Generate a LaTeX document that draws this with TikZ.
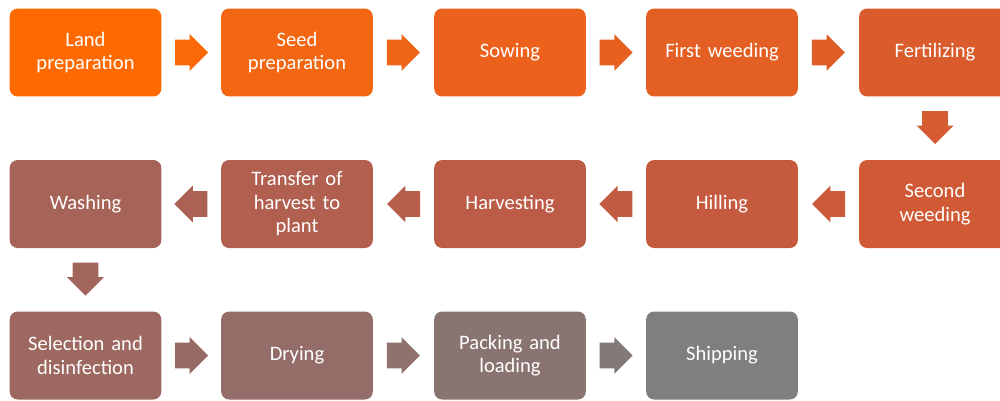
\documentclass[tikz,border=0pt]{standalone}
\usepackage{fontspec}
\setmainfont{Carlito}
\usetikzlibrary{shapes.arrows, calc}

% colours running from orange to grey along the process
\definecolor{step1}{RGB}{255,106,0}
\definecolor{step2}{RGB}{243,102,18}
\definecolor{step3}{RGB}{236,98,28}
\definecolor{step4}{RGB}{228,95,35}
\definecolor{step5}{RGB}{218,92,44}
\definecolor{step6}{RGB}{208,90,53}
\definecolor{step7}{RGB}{198,90,62}
\definecolor{step8}{RGB}{188,92,71}
\definecolor{step9}{RGB}{177,95,79}
\definecolor{step10}{RGB}{166,99,88}
\definecolor{step11}{RGB}{157,104,96}
\definecolor{step12}{RGB}{148,109,105}
\definecolor{step13}{RGB}{138,116,114}
\definecolor{step14}{RGB}{127,127,127}

\tikzset{
  stagebox/.style={rounded corners=0.16cm, minimum width=2.98cm, minimum height=1.76cm,
    text width=2.8cm, align=center, text=white, font=\fontsize{11.7}{13.4}\selectfont},
  flowarrow/.style={single arrow, anchor=tail, inner xsep=0pt, inner ysep=0.25cm,
    single arrow head extend=0.11cm, minimum height=0.66cm, text height=0pt, text depth=0pt},
}

\begin{document}
\begin{tikzpicture}[x=0.02cm, y=-0.02cm]
\useasboundingbox (0,0) rectangle (1000,400);
% --- Row 1 (left to right) ---
\node[stagebox, fill=step1] (land) at (85.5,52.5) {Land\\preparation};
\node[stagebox, fill=step2] (seed) at (297,52.5) {Seed\\preparation};
\node[stagebox, fill=step3] (sowing) at (510,52.5) {Sowing};
\node[stagebox, fill=step4] (weed1) at (722,52.5) {First weeding};
\node[stagebox, fill=step5] (fert) at (935,52.5) {Fertilizing};
% --- Row 2 (right to left) ---
\node[stagebox, fill=step6] (weed2) at (935,204) {Second\\weeding};
\node[stagebox, fill=step7] (hilling) at (722,204) {Hilling};
\node[stagebox, fill=step8] (harvest) at (510,204) {Harvesting};
\node[stagebox, fill=step9] (transfer) at (297,204) {Transfer of\\harvest to\\plant};
\node[stagebox, fill=step10] (washing) at (85.5,204) {Washing};
% --- Row 3 (left to right) ---
\node[stagebox, fill=step11] (select) at (85.5,355.5) {Selection and\\disinfection};
\node[stagebox, fill=step12] (drying) at (297,355.5) {Drying};
\node[stagebox, fill=step13] (packing) at (510,355.5) {Packing and\\loading};
\node[stagebox, fill=step14] (shipping) at (722,355.5) {Shipping};

% block arrows between the stages
\node[flowarrow, fill=step1!60!step2] (a1) at ($(land.east)!0.22!(seed.west)$) {};
\node[flowarrow, fill=step2!50!step3] (a2) at ($(seed.east)!0.22!(sowing.west)$) {};
\node[flowarrow, fill=step3!50!step4] (a3) at ($(sowing.east)!0.22!(weed1.west)$) {};
\node[flowarrow, fill=step4!50!step5] (a4) at ($(weed1.east)!0.22!(fert.west)$) {};
\node[flowarrow, fill=step5!50!step6, rotate=-90] (a5) at ($(fert.south)!0.22!(weed2.north)$) {};
\node[flowarrow, fill=step6!50!step7, rotate=180] (a6) at ($(weed2.west)!0.22!(hilling.east)$) {};
\node[flowarrow, fill=step7!50!step8, rotate=180] (a7) at ($(hilling.west)!0.22!(harvest.east)$) {};
\node[flowarrow, fill=step8!50!step9, rotate=180] (a8) at ($(harvest.west)!0.22!(transfer.east)$) {};
\node[flowarrow, fill=step9!50!step10, rotate=180] (a9) at ($(transfer.west)!0.22!(washing.east)$) {};
\node[flowarrow, fill=step10!50!step11, rotate=-90] (a10) at ($(washing.south)!0.22!(select.north)$) {};
\node[flowarrow, fill=step11!50!step12] (a11) at ($(select.east)!0.22!(drying.west)$) {};
\node[flowarrow, fill=step12!50!step13] (a12) at ($(drying.east)!0.22!(packing.west)$) {};
\node[flowarrow, fill=step13!50!step14] (a13) at ($(packing.east)!0.22!(shipping.west)$) {};
\end{tikzpicture}
\end{document}
